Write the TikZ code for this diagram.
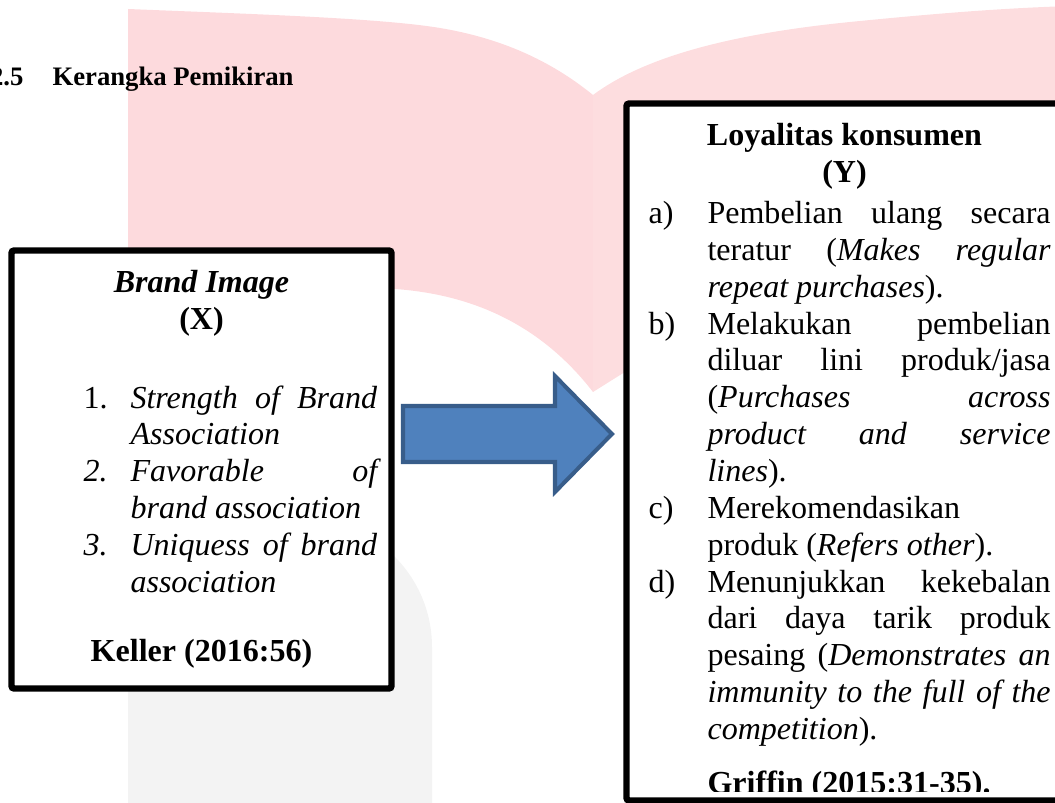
\documentclass[tikz,border=0pt]{standalone}
\usepackage{fontspec}
\setmainfont{Liberation Serif}
\definecolor{halamankiri}{RGB}{253,218,221}
\definecolor{halamankanan}{RGB}{253,221,223}
\definecolor{abumuda}{RGB}{243,243,243}
\definecolor{isipanah}{RGB}{79,129,189}
\definecolor{garispanah}{RGB}{56,93,138}
\newcommand{\butir}[3]{\par\hangindent=#1\hangafter=1\noindent\strut\makebox[#1][l]{#2}#3\par}
\tolerance=10000
\hbadness=10000
\hyphenpenalty=10000
\tikzset{
  kotak/.style={line width=0.085cm, fill=white, rounded corners=1pt},
  panah/.style={line width=0.053cm, fill=isipanah, draw=garispanah},
  teks/.style={inner sep=0pt},
  daftar/.style={inner sep=0pt, align=justify, anchor=north west},
  judul/.style={inner sep=0pt, font=\fontsize{10}{12}\selectfont\bfseries}
}
\begin{document}
\begin{tikzpicture}
        \useasboundingbox (0,0) rectangle (13.886965,10.569889);%
        \clip (0,0) rectangle (13.886965,10.569889);%
        
        % Drawing left page of watermark
        \fill [halamankiri] (1.684864,10.451422) .. controls (3.290750,10.385607) and (5.001940,10.332955) .. (5.791720,10.201325) .. controls (6.581500,10.069695) and (7.239650,9.780109) .. (7.805659,9.319404) -- (7.805659,5.409993) .. controls (7.173835,6.226099) and (6.318240,6.686804) .. (5.199385,6.765782) -- (1.684864,6.765782) -- cycle;%
        
        % Drawing right page of watermark
        \fill [halamankanan] (7.805659,9.319404) .. controls (8.424320,9.780109) and (9.477360,10.109184) .. (11.188550,10.280303) .. controls (12.504850,10.411933) and (13.294630,10.464585) .. (14.084410,10.490911) -- (14.084410,8.990329) -- (8.687580,8.990329) -- (8.687580,5.962839) -- (7.805659,5.409993) -- cycle;%
        
        % Drawing grey foot of watermark
        \fill [abumuda] (1.684864,-0.092141) -- (1.684864,3.738292) -- (4.001552,3.738292) arc [start angle=90, end angle=0, radius=1.684864] -- (5.686416,-0.092141) -- cycle;%
        
        % Drawing block arrow X to Y
        \filldraw [panah] (5.304689,5.225711) -- (7.305465,5.225711) -- (7.305465,5.620601) -- (8.055756,4.857147) -- (7.305465,4.093693) -- (7.305465,4.488583) -- (5.304689,4.488583) -- cycle;%
        
        % Drawing box X and box Y
        \draw [kotak] (0.151375,7.272558) rectangle (5.153315,1.507164);%
        \draw [kotak] (8.246620,9.207519) rectangle (14.150225,0.032908);%
        
        % Section title
        \node (nomor) [judul, anchor=base east] at (0.315912,9.437871) {2.5};%
        \node (subbab) [judul, anchor=base west] at (0.684476,9.437871) {Kerangka Pemikiran};%
        
        {\fontsize{12}{13.8}\selectfont
        
        % Text of box X
        \node (brandimage) [teks, anchor=base] at (2.652345,6.713130) {\textbf{\textit{Brand Image}}};%
        \node (variabelX) [teks, anchor=base] at (2.652345,6.226099) {\textbf{(X)}};%
        \node (dimensiX) [daftar, text width=110pt] at (1.092529,5.690365) {%
          \butir{17.6pt}{1.}{\textit{Strength of Brand\linebreak Association}}%
          \butir{17.6pt}{\textit{2.}}{\textit{Favorable of\linebreak brand association}}%
          \butir{17.6pt}{\textit{3.}}{\textit{Uniquess of brand\linebreak association}}};%
        \node (keller) [teks, anchor=base] at (2.652345,1.855983) {\textbf{Keller (2016:56)}};%
        
        % Text of box Y
        \node (loyalitas) [teks, anchor=base] at (11.116154,8.648091) {\textbf{Loyalitas konsumen}};%
        \node (variabelY) [teks, anchor=base] at (11.116154,8.164351) {\textbf{(Y)}};%
        \node (indikatorY) [daftar, text width=150.6pt] at (8.529624,8.118939) {%
          \butir{22.1pt}{a)}{Pembelian ulang secara\linebreak teratur (\textit{Makes regular\linebreak repeat purchases}).}%
          \butir{22.1pt}{b)}{Melakukan pembelian\linebreak diluar lini produk/jasa\linebreak (\textit{Purchases across\linebreak product and service\linebreak lines}).}%
          \butir{22.1pt}{c)}{Merekomendasikan\newline produk (\textit{Refers other}).}%
          \butir{22.1pt}{d)}{Menunjukkan kekebalan\linebreak dari daya tarik produk\linebreak pesaing (\textit{Demonstrates an\linebreak immunity to the full of the\linebreak competition}).}};%
        
        % Source of box Y, cut by the box edge
        \begin{scope}
          \clip (8.300000,0.144793) rectangle (14.000000,2.000000);%
          \node (griffin) [teks, anchor=base west] at (9.306241,0.118467) {\textbf{Griffin (2015:31-35).}};%
        \end{scope}
        }
\end{tikzpicture}
\end{document}
